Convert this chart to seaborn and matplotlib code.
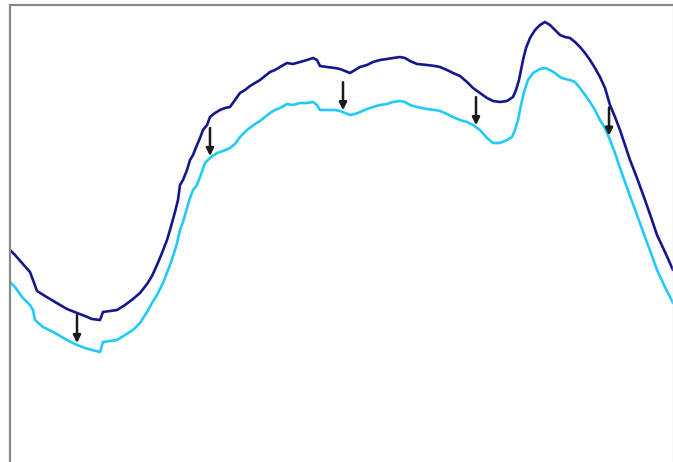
import numpy as np
import pandas as pd
import matplotlib
matplotlib.use("Agg")
import matplotlib.pyplot as plt
import seaborn as sns

# Series (x: horizontal position, y: height above bottom)
upper_x = [0, 5, 12, 20, 23, 27, 35, 45, 57, 67,
           75, 82, 90, 93, 100, 107, 115, 123, 130, 137,
           142, 147, 152, 157, 160, 165, 168, 170, 173, 177,
           180, 183, 187, 190, 193, 197, 200, 205, 210, 215,
           220, 225, 230, 235, 240, 245, 250, 255, 260, 265,
           270, 277, 283, 290, 297, 303, 307, 310, 317, 325,
           330, 335, 340, 345, 350, 357, 363, 370, 377, 383,
           390, 395, 400, 407, 417, 425, 430, 437, 443, 450,
           457, 463, 470, 477, 483, 490, 497, 503, 506, 509,
           511, 513, 516, 520, 525, 530, 535, 540, 545, 550,
           555, 560, 565, 570, 575, 580, 585, 590, 595, 600,
           605, 610, 615, 620, 627, 635, 642, 647, 655, 663]
upper_y = [212, 207, 199, 190, 182, 171, 166, 160, 153, 149,
           146, 143, 142, 150, 151, 152, 157, 163, 169, 178,
           186, 197, 209, 222, 232, 250, 262, 277, 282, 292,
           302, 307, 317, 324, 332, 337, 345, 349, 352, 354,
           355, 362, 369, 372, 376, 379, 382, 386, 390, 392,
           395, 399, 398, 400, 402, 404, 402, 396, 395, 394,
           393, 391, 389, 392, 395, 397, 400, 402, 403, 404,
           405, 404, 401, 398, 397, 396, 395, 392, 389, 386,
           380, 374, 369, 364, 361, 360, 361, 365, 372, 382,
           392, 402, 414, 424, 432, 437, 440, 437, 432, 427,
           425, 424, 420, 415, 409, 402, 394, 385, 374, 357,
           345, 332, 317, 302, 284, 262, 242, 227, 210, 192]

lower_x = [0, 5, 12, 20, 23, 25, 33, 45, 57, 67,
           75, 82, 90, 93, 100, 107, 115, 123, 130, 137,
           142, 147, 153, 160, 165, 167, 170, 173, 177, 180,
           183, 187, 190, 195, 200, 207, 213, 220, 225, 230,
           237, 245, 250, 255, 260, 265, 270, 277, 283, 290,
           297, 303, 307, 310, 317, 325, 330, 335, 340, 345,
           350, 357, 363, 370, 377, 383, 390, 395, 400, 407,
           417, 425, 430, 437, 443, 450, 457, 463, 470, 477,
           483, 490, 497, 502, 505, 508, 511, 514, 518, 523,
           530, 535, 540, 545, 550, 555, 560, 565, 570, 575,
           580, 585, 590, 595, 600, 605, 610, 615, 620, 627,
           635, 642, 647, 655, 663]
lower_y = [180, 175, 165, 157, 152, 142, 135, 129, 122, 117,
           114, 112, 110, 120, 121, 122, 127, 132, 139, 150,
           159, 167, 179, 197, 212, 219, 232, 240, 254, 264,
           272, 277, 285, 299, 304, 309, 311, 314, 318, 325,
           332, 338, 341, 345, 349, 352, 354, 358, 357, 359,
           359, 360, 357, 352, 352, 352, 351, 349, 347, 348,
           350, 353, 355, 357, 358, 360, 361, 360, 357, 355,
           353, 352, 351, 348, 345, 342, 340, 337, 332, 324,
           319, 319, 322, 325, 332, 342, 357, 370, 382, 389,
           393, 394, 392, 389, 385, 383, 382, 380, 374, 367,
           360, 352, 342, 334, 322, 309, 294, 280, 266, 247,
           225, 206, 192, 175, 159]

arrow_x = [67, 200, 333, 466, 599]
arrow_len = 28

df = pd.concat([
    pd.DataFrame({"x": upper_x, "y": upper_y, "series": "upper"}),
    pd.DataFrame({"x": lower_x, "y": lower_y, "series": "lower"}),
], ignore_index=True)

sns.set_style("white")
fig = plt.figure(figsize=(6.73, 4.62), dpi=100)
ax = fig.add_axes([10 / 673, 0.0, 663 / 673, 457 / 462])

sns.lineplot(data=df, x="x", y="y", hue="series", sort=False, estimator=None,
             palette={"upper": "#16168c", "lower": "#22cbf7"}, linewidth=1.9,
             legend=False, ax=ax)

for xa in arrow_x:
    y1 = np.interp(xa, lower_x, lower_y) + 2
    y0 = y1 + arrow_len
    ax.annotate("", xy=(xa, y1), xytext=(xa, y0),
                arrowprops=dict(arrowstyle="-|>", color="#1a1a1a", lw=1.8,
                                mutation_scale=11, shrinkA=0, shrinkB=0))

ax.set_xlim(0, 663)
ax.set_ylim(0, 457)
ax.set_xticks([])
ax.set_yticks([])
ax.set_xlabel("")
ax.set_ylabel("")
for s in ["left", "top"]:
    ax.spines[s].set_color("#888888")
    ax.spines[s].set_linewidth(1.6)
ax.spines["right"].set_color("#e0e0e0")
ax.spines["right"].set_linewidth(1.0)
ax.spines["bottom"].set_visible(False)

fig.savefig("out.png", dpi=100)
